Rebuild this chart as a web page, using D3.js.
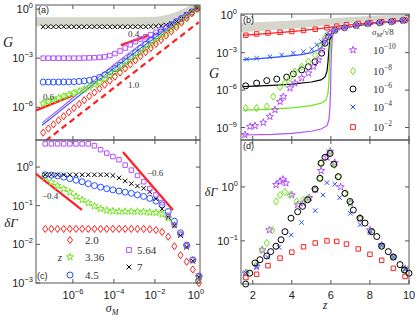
<!DOCTYPE html>
<html>
<head>
<meta charset="utf-8">
<script src="https://cdn.jsdelivr.net/npm/d3@7"></script>
<style>
  body { margin: 0; background: #fff; }
  svg { display: block; }
</style>
</head>
<body>
<script>
// ---- data (exponents of 10 for log axes) ----

// panel (a): G vs sigma_M
var logSigmaA = [-7.45, -7.2, -6.95, -6.7, -6.45, -6.2, -5.95, -5.7, -5.45, -5.2, -4.95, -4.7, -4.45, -4.2, -3.95,
                 -3.7, -3.45, -3.2, -2.95, -2.7, -2.45, -2.2, -1.95, -1.7, -1.45, -1.2, -0.95, -0.7, -0.45, -0.2, 0.05];
var gZ20  = [-7.55, -7.3, -7.05, -6.8, -6.55, -6.3, -6.05, -5.8, -5.57, -5.33, -5.1, -4.86, -4.62, -4.38, -4.13,
             -3.88, -3.63, -3.38, -3.13, -2.88, -2.63, -2.38, -2.13, -1.88, -1.62, -1.37, -1.1, -0.83, -0.55, -0.26, 0.02];
var gZ336 = [-5.76, -5.64, -5.53, -5.43, -5.33, -5.23, -5.13, -5.02, -4.9, -4.77, -4.62, -4.46, -4.26, -4.06, -3.86,
             -3.64, -3.41, -3.17, -2.93, -2.69, -2.45, -2.21, -1.97, -1.73, -1.49, -1.25, -1.0, -0.75, -0.5, -0.24, 0.02];
var gZ45  = [-4.46, -4.46, -4.46, -4.46, -4.45, -4.45, -4.44, -4.42, -4.39, -4.35, -4.28, -4.17, -4.02, -3.84, -3.64,
             -3.43, -3.18, -2.92, -2.66, -2.4, -2.15, -1.9, -1.65, -1.4, -1.18, -0.97, -0.77, -0.57, -0.37, -0.17, 0.02];
var gZ564 = [-3.0, -3.0, -3.0, -3.0, -3.0, -3.0, -3.0, -3.0, -2.99, -2.98, -2.97, -2.95, -2.92, -2.84, -2.72,
             -2.56, -2.38, -2.18, -1.99, -1.83, -1.69, -1.56, -1.42, -1.27, -1.11, -0.94, -0.76, -0.58, -0.39, -0.19, 0.02];
var gZ7   = [-1.08, -1.08, -1.08, -1.08, -1.08, -1.08, -1.08, -1.08, -1.08, -1.08, -1.08, -1.08, -1.08, -1.08, -1.08,
             -1.08, -1.08, -1.08, -1.08, -1.08, -1.08, -1.07, -1.05, -1.02, -0.97, -0.88, -0.75, -0.57, -0.35, -0.13, 0.07];

var lineBlueA_x   = [-7.5, -6.5, -5.5, -4.5, -3.5, -2.5, -1.5, -0.5, 0.05];
var lineBlueA_y   = [-7.1, -6.1, -5.1, -4.1, -3.15, -2.2, -1.3, -0.42, 0.02];
var linePurpleA_x = [-7.5, -7, -6.5, -6, -5.5, -5, -4.5, -4, -3.5, -3, -2.5, -2, -1.5, -1, -0.5, 0.05];
var linePurpleA_y = [-6.95, -6.45, -5.95, -5.42, -4.92, -4.42, -3.9, -3.4, -2.92, -2.45, -2.0, -1.6, -1.2, -0.82, -0.42, 0.02];
var slope06_x = [-7.8, -6.0],  slope06_y = [-6.2, -5.28];
var slope04_x = [-3.66, -2.34], slope04_y = [-2.2, -1.62];
var slope10_x = [-7.32, 0.14],  slope10_y = [-8.04, -0.8];
var bandA_x  = [-7.8, -5, -3, -2, -1.5, -1, -0.5, 0, 0.2];
var bandA_lo = [-1.05, -1.05, -1.05, -1.03, -0.97, -0.8, -0.45, -0.02, 0.15];
var bandA_hi = [-0.5, -0.5, -0.5, -0.47, -0.38, -0.2, 0.08, 0.3, 0.3];

// panel (c): dGamma vs sigma_M
var logSigmaC = [-7.35, -7.05, -6.75, -6.45, -6.15, -5.85, -5.55, -5.25, -4.95, -4.65, -4.35, -4.05, -3.75,
                 -3.45, -3.15, -2.85, -2.55, -2.25, -1.95, -1.65, -1.35, -1.05, -0.75, -0.45, -0.15, 0.15];
var dZ20  = [-1.6, -1.6, -1.6, -1.6, -1.6, -1.6, -1.6, -1.6, -1.6, -1.6, -1.6, -1.6, -1.6,
             -1.6, -1.6, -1.6, -1.6, -1.61, -1.63, -1.68, -1.8, -2.05, -2.28, -2.45, -2.65, -3.0];
var dZ336 = [-0.25, -0.39, -0.48, -0.56, -0.65, -0.76, -0.85, -0.93, -1.01, -1.08, -1.12, -1.14, -1.15,
             -1.15, -1.15, -1.15, -1.16, -1.17, -1.18, -1.22, -1.32, -1.5, -1.75, -2.05, -2.42, -2.85];
var dZ45  = [-0.2, -0.21, -0.23, -0.26, -0.3, -0.34, -0.38, -0.43, -0.48, -0.52, -0.56, -0.59, -0.62,
             -0.65, -0.68, -0.72, -0.76, -0.81, -0.88, -0.98, -1.15, -1.4, -1.7, -2.02, -2.4, -2.82];
var dZ564 = [0.6, 0.6, 0.6, 0.6, 0.6, 0.6, 0.6, 0.6, 0.55, 0.45, 0.36, 0.27, 0.19,
             0.05, -0.08, -0.22, -0.38, -0.56, -0.72, -0.92, -1.25, -1.5, -1.74, -2.04, -2.4, -2.82];
var dZ7   = [-0.2, -0.2, -0.2, -0.2, -0.2, -0.2, -0.2, -0.2, -0.2, -0.2, -0.2, -0.22, -0.28,
             -0.36, -0.43, -0.49, -0.55, -0.64, -0.82, -1.08, -1.3, -1.52, -1.77, -2.07, -2.43, -2.85];
var slopeM04_x = [-7.85, -5.56], slopeM04_y = [-0.155, -1.11];
var slopeM06_x = [-3.56, -1.12], slopeM06_y = [0.39, -1.11];

// panel (b): G vs z, for sigma_M/sqrt(8) = 1e-10 ... 1e-2
var zStarB = [1.6, 1.86, 2.12, 2.54, 2.88, 3.14, 3.4, 3.57, 3.91, 4.16, 4.51, 4.85, 5.1, 5.36, 5.53, 5.74, 5.96, 6.2, 6.7, 7.3, 7.9, 8.5, 9.1, 9.7];
var gStarB = [-9.58, -8.92, -8.86, -8.6, -8.12, -7.58, -6.92, -6.52, -5.84, -5.44, -5.04, -4.64, -4.12, -3.58, -2.78, -1.98, -1.44, -1.2, -1.0, -0.82, -0.68, -0.6, -0.52, -0.42];
var zDiamB = [1.64, 2.2, 2.72, 3.05, 3.4, 3.65, 3.91, 4.16, 4.51, 4.85, 5.19, 5.45, 5.7, 5.96, 6.2, 6.7, 7.3, 7.9, 8.5, 9.1, 9.7];
var gDiamB = [-7.44, -7.44, -7.32, -6.52, -5.76, -5.44, -5.04, -4.52, -4.12, -3.72, -3.18, -2.52, -1.84, -1.44, -1.2, -1.0, -0.82, -0.68, -0.6, -0.52, -0.42];
var zCircB = [1.64, 2.2, 2.72, 3.23, 3.74, 4.08, 4.51, 4.85, 5.19, 5.53, 5.7, 5.87, 6.2, 6.7, 7.3, 7.9, 8.5, 9.1, 9.7];
var gCircB = [-5.66, -5.44, -5.24, -5.12, -4.96, -4.7, -4.38, -4.12, -3.72, -3.04, -2.24, -1.72, -1.2, -1.0, -0.82, -0.68, -0.6, -0.52, -0.42];
var zCrossB = [1.69, 2.2, 2.88, 3.48, 4.08, 4.59, 5.02, 5.28, 5.53, 5.79, 6.2, 6.7, 7.3, 7.9, 8.5, 9.1, 9.7];
var gCrossB = [-3.52, -3.44, -3.32, -3.18, -3.04, -2.92, -2.72, -2.38, -2.12, -1.58, -1.2, -1.0, -0.82, -0.68, -0.6, -0.52, -0.42];
var zSqB = [1.65, 2.2, 2.78, 3.4, 4.0, 4.6, 5.2, 5.8, 6.3, 6.8, 7.4, 8.0, 8.6, 9.2, 9.8];
var gSqB = [-1.6, -1.5, -1.42, -1.36, -1.3, -1.22, -1.12, -1.0, -0.88, -0.76, -0.66, -0.58, -0.52, -0.46, -0.4];

var lineRedB_z    = [1.5, 2.5, 3.5, 4.5, 5.5, 6.5, 7.5, 8.5, 10];
var lineRedB_g    = [-1.62, -1.5, -1.38, -1.24, -1.06, -0.85, -0.68, -0.55, -0.4];
var lineBlueB_z   = [1.5, 2.5, 3.5, 4.5, 5.0, 5.4, 5.7, 5.9, 6.1, 6.5, 7.5, 8.5, 10];
var lineBlueB_g   = [-3.55, -3.45, -3.32, -3.15, -3.0, -2.75, -2.3, -1.7, -1.3, -1.05, -0.8, -0.6, -0.4];
var lineBlackB_z  = [1.5, 3, 4, 5, 5.5, 5.7, 5.8, 5.85, 5.9, 5.95, 6.05, 6.5, 7.5, 8.5, 10];
var lineBlackB_g  = [-5.72, -5.62, -5.52, -5.35, -5.18, -4.95, -4.5, -3.8, -2.8, -2.0, -1.4, -1.05, -0.8, -0.6, -0.4];
var lineGreenB_z  = [1.5, 3, 4, 5, 5.5, 5.75, 5.85, 5.9, 5.93, 5.97, 6.03, 6.2, 6.5, 7.5, 8.5, 10];
var lineGreenB_g  = [-7.6, -7.52, -7.42, -7.25, -7.05, -6.8, -6.3, -5.3, -3.8, -2.4, -1.6, -1.25, -1.05, -0.8, -0.6, -0.4];
var linePurpleB_z = [1.5, 3, 4, 5, 5.5, 5.8, 5.9, 5.95, 5.98, 6.0, 6.03, 6.08, 6.2, 6.5, 7.5, 8.5, 10];
var linePurpleB_g = [-9.6, -9.55, -9.47, -9.3, -9.12, -8.85, -8.4, -7.5, -6.2, -4.6, -2.9, -1.7, -1.25, -1.05, -0.8, -0.6, -0.4];
var bandB_z  = [1.4, 3, 5, 7, 10];
var bandB_lo = [-1.34, -1.2, -0.95, -0.62, -0.3];
var bandB_hi = [-0.62, -0.5, -0.35, -0.15, 0.05];

// panel (d): dGamma vs z
var zSqD = [1.65, 2.2, 2.78, 3.4, 4.0, 4.6, 5.2, 5.8, 6.3, 6.8, 7.4, 8.0, 8.6, 9.2, 9.8];
var dSqD = [-1.68, -1.62, -1.46, -1.32, -1.21, -1.11, -1.04, -1.0, -1.01, -1.06, -1.15, -1.25, -1.36, -1.51, -1.66];
var zCrossD = [1.64, 2.2, 2.76, 3.35, 3.97, 4.5, 5.2, 5.6, 5.8, 6.2, 6.45, 7.0, 7.5, 8.0, 8.6, 9.2, 9.8];
var dCrossD = [-1.59, -1.48, -1.3, -1.12, -0.89, -0.66, -0.44, -0.15, 0.08, 0.05, -0.2, -0.49, -0.7, -0.85, -1.08, -1.3, -1.52];
var zCircD = [1.64, 1.85, 2.12, 2.37, 2.72, 2.92, 3.19, 3.45, 3.65, 3.96, 4.3, 4.55, 4.81, 5.19, 5.44, 5.5, 5.7, 5.96,
              6.15, 6.38, 6.72, 6.98, 7.15, 7.49, 7.75, 8.09, 8.35, 8.6, 8.94, 9.2, 9.54, 9.76, 10.0];
var dCircD = [-1.8, -1.6, -1.41, -1.35, -1.28, -1.2, -1.1, -0.98, -0.83, -0.58, -0.46, -0.36, -0.24, -0.04, 0.16, 0.44, 0.55, 0.62,
              0.42, 0.19, -0.12, -0.27, -0.43, -0.58, -0.67, -0.83, -0.92, -1.1, -1.2, -1.3, -1.44, -1.54, -1.6];
var zDiamD = [1.7, 2.2, 2.45, 2.72, 3.0, 3.2, 3.4, 3.65, 3.9, 4.25, 4.6, 4.85, 5.2, 5.44, 5.5, 5.96, 6.2, 6.38, 6.7, 7.0, 7.5, 8.1, 8.6, 9.2, 9.8];
var dDiamD = [-1.59, -1.44, -1.17, -1.04, -0.8, -0.27, -0.15, -0.09, -0.15, -0.27, -0.24, -0.21, -0.05, 0.16, 0.44, 0.64, 0.41, 0.19, -0.12, -0.3, -0.58, -0.83, -1.1, -1.3, -1.55];
var zStarD = [1.64, 2.2, 2.5, 2.85, 3.2, 3.4, 3.55, 3.7, 4.0, 4.3, 4.6, 4.9, 5.2, 5.5, 5.8, 5.96, 6.2, 6.5, 7.0, 7.5, 8.0, 8.6, 9.2, 9.8];
var dStarD = [-1.6, -1.48, -1.17, -0.8, 0.04, 0.1, 0.14, 0.07, -0.15, -0.33, -0.3, -0.2, -0.05, 0.3, 0.55, 0.66, 0.45, 0.0, -0.3, -0.58, -0.8, -1.08, -1.3, -1.52];

// tick values (exponents / z)
var ticksXSigma = [-6, -4, -2, 0];
var ticksYA = [0, -3, -6];
var ticksYC = [0, -1, -2, -3];
var ticksYB = [0, -3, -6, -9];
var ticksYD = [0, -1];
var ticksZ = [2, 4, 6, 8, 10];

var legendZ = ["2.0", "3.36", "4.5", "5.64", "7"];
var legendSigma = [-10, -8, -6, -4, -2];

// ---- setup ----
var width = 415, height = 318;
var sans = "'Liberation Sans', Arial, sans-serif",
    serif = "'Liberation Serif', 'Times New Roman', serif";
var RED = "#ff1f1f", GREEN = "#6ee61a", BLUE = "#2850ff", PURPLE = "#b450ff", BLACK = "#000",
    AXIS = "#555", BAND = "#d4d6cc";

var p10 = function(v){ return Math.pow(10, v); };

var svg = d3.select("body").append("svg")
    .attr("width", width)
    .attr("height", height);

//scales
var xSig = d3.scaleLog().domain([p10(-7.8), p10(0.2)]).range([36, 200]);
var yA = d3.scaleLog().domain([p10(-8), p10(0.25)]).range([140, 5]);
var yC = d3.scaleLog().domain([p10(-3), p10(0.7)]).range([283, 140]);
var xZ = d3.scaleLinear().domain([1.4, 10]).range([241, 409]);
var yB = d3.scaleLog().domain([p10(-10), p10(0.1)]).range([140, 14]);
var yD = d3.scaleLog().domain([p10(-1.8), p10(0.87)]).range([284, 140]);

var defs = svg.append("defs");
function clip(id, x0, x1, y0, y1){
    defs.append("clipPath").attr("id", id).append("rect")
        .attr("x", x0).attr("y", y0).attr("width", x1 - x0).attr("height", y1 - y0);
    return svg.append("g").attr("clip-path", "url(#" + id + ")");
}

function markerPath(type, r){
    var p = d3.path();
    if (type === "diamond"){
        p.moveTo(0, -r * 1.2); p.lineTo(r * 0.85, 0); p.lineTo(0, r * 1.2); p.lineTo(-r * 0.85, 0); p.closePath();
    } else if (type === "square"){
        p.rect(-r * 0.8, -r * 0.8, r * 1.6, r * 1.6);
    } else if (type === "circle"){
        p.moveTo(r, 0); p.arc(0, 0, r, 0, 2 * Math.PI);
    } else if (type === "cross"){
        p.moveTo(-r * 0.8, -r * 0.8); p.lineTo(r * 0.8, r * 0.8);
        p.moveTo(r * 0.8, -r * 0.8); p.lineTo(-r * 0.8, r * 0.8);
    } else if (type === "star"){
        for (var i = 0; i < 10; i++){
            var a = -Math.PI / 2 + i * Math.PI / 5;
            var rr = i % 2 ? r * 0.5 : r * 1.25;
            if (i === 0) p.moveTo(rr * Math.cos(a), rr * Math.sin(a));
            else p.lineTo(rr * Math.cos(a), rr * Math.sin(a));
        }
        p.closePath();
    }
    return p.toString();
}

function markers(g, xs, ys, fx, fy, type, color, r){
    g.append("g").selectAll("path")
        .data(d3.zip(xs, ys))
        .enter()
        .append("path")
        .attr("d", markerPath(type, r))
        .attr("transform", function(d){ return "translate(" + fx(d[0]) + "," + fy(d[1]) + ")"; })
        .attr("fill", "none")
        .attr("stroke", color)
        .attr("stroke-width", 1);
}

function curve(g, xs, ys, fx, fy, color, w, dash){
    var line = d3.line().x(function(d){ return fx(d[0]); }).y(function(d){ return fy(d[1]); });
    g.append("path")
        .datum(d3.zip(xs, ys))
        .attr("d", line)
        .attr("fill", "none")
        .attr("stroke", color)
        .attr("stroke-width", w)
        .attr("stroke-dasharray", dash || null);
}

function band(g, xs, lo, hi, fx, fy){
    var area = d3.area()
        .x(function(d){ return fx(d[0]); })
        .y0(function(d){ return fy(d[1]); })
        .y1(function(d){ return fy(d[2]); })
        .curve(d3.curveMonotoneX);
    g.append("path").datum(d3.zip(xs, lo, hi)).attr("d", area).attr("fill", BAND);
}

//log-axis helpers
var fxS = function(v){ return xSig(p10(v)); };
var fyA = function(v){ return yA(p10(v)); };
var fyC = function(v){ return yC(p10(v)); };
var fyB = function(v){ return yB(p10(v)); };
var fyD = function(v){ return yD(p10(v)); };

//frame with inward ticks on all four sides
function frame(x0, x1, y0, y1, xT, yT, fx, fy){
    var g = svg.append("g");
    g.append("rect").attr("x", x0).attr("y", y0).attr("width", x1 - x0).attr("height", y1 - y0)
        .attr("fill", "none").attr("stroke", AXIS).attr("stroke-width", 1);
    xT.forEach(function(t){
        var x = fx(t);
        g.append("line").attr("x1", x).attr("x2", x).attr("y1", y1).attr("y2", y1 - 4).attr("stroke", AXIS);
        g.append("line").attr("x1", x).attr("x2", x).attr("y1", y0).attr("y2", y0 + 4).attr("stroke", AXIS);
    });
    yT.forEach(function(t){
        var y = fy(t);
        g.append("line").attr("x1", x0).attr("x2", x0 + 4).attr("y1", y).attr("y2", y).attr("stroke", AXIS);
        g.append("line").attr("x1", x1).attr("x2", x1 - 4).attr("y1", y).attr("y2", y).attr("stroke", AXIS);
    });
}

function powText(x, y, e, anchor, size, font){
    var t = svg.append("text").attr("x", x).attr("y", y)
        .attr("text-anchor", anchor).attr("font-family", font || sans)
        .attr("font-size", size || 11).attr("fill", "#222");
    t.append("tspan").text("10");
    t.append("tspan").attr("dy", -5).attr("font-size", (size || 11) * 0.68)
        .text(e === 0 ? "0" : "\u2212" + Math.abs(e));
    return t;
}

function label(x, y, txt, size, font, style, anchor, color){
    return svg.append("text").attr("x", x).attr("y", y)
        .attr("font-family", font).attr("font-size", size)
        .attr("font-style", style || "normal")
        .attr("text-anchor", anchor || "start")
        .attr("fill", color || "#222")
        .text(txt);
}

// ---- panel (a) ----
var gA = clip("clipA", 36, 200, 5, 140);
band(gA, bandA_x, bandA_lo, bandA_hi, fxS, fyA);
curve(gA, slope10_x, slope10_y, fxS, fyA, RED, 2.2, "6,4");
curve(gA, lineBlueA_x, lineBlueA_y, fxS, fyA, BLUE, 1.1);
curve(gA, linePurpleA_x, linePurpleA_y, fxS, fyA, PURPLE, 1.1);
var mA = svg.append("g");
markers(mA, logSigmaA, gZ7, fxS, fyA, "cross", BLACK, 2.8);
markers(mA, logSigmaA, gZ564, fxS, fyA, "square", PURPLE, 2.8);
markers(mA, logSigmaA, gZ45, fxS, fyA, "circle", BLUE, 3);
markers(mA, logSigmaA, gZ336, fxS, fyA, "star", GREEN, 3);
markers(mA, logSigmaA, gZ20, fxS, fyA, "diamond", RED, 3);
curve(gA, slope06_x, slope06_y, fxS, fyA, RED, 2.2);
curve(gA, slope04_x, slope04_y, fxS, fyA, RED, 2.2);
frame(36, 200, 5, 140, ticksXSigma, ticksYA, fxS, fyA);
ticksYA.forEach(function(e){ powText(33, fyA(e) + 4, e, "end"); });
label(38, 13, "(a)", 9, sans);
label(128, 37, "0.4", 9, serif, null, null, "#333");
label(43, 100, "0.6", 9, serif, null, null, "#333");
label(128, 88, "1.0", 9, serif, null, null, "#333");
label(8, 47, "G", 14, serif, "italic", "middle");

// ---- panel (c) ----
var gC = clip("clipC", 36, 200, 140, 283);
var mC = svg.append("g");
markers(mC, logSigmaC, dZ20, fxS, fyC, "diamond", RED, 3);
markers(mC, logSigmaC, dZ336, fxS, fyC, "star", GREEN, 3);
markers(mC, logSigmaC, dZ45, fxS, fyC, "circle", BLUE, 3);
markers(mC, logSigmaC, dZ7, fxS, fyC, "cross", BLACK, 2.8);
markers(mC, logSigmaC, dZ564, fxS, fyC, "square", PURPLE, 2.8);
curve(gC, slopeM04_x, slopeM04_y, fxS, fyC, RED, 2.2);
curve(gC, slopeM06_x, slopeM06_y, fxS, fyC, RED, 2.2);
frame(36, 200, 140, 283, ticksXSigma, ticksYC, fxS, fyC);
ticksYC.forEach(function(e){ powText(33, fyC(e) + 4, e, "end"); });
ticksXSigma.forEach(function(e){ powText(fxS(e), 299, e, "middle"); });
label(147, 176, "\u22120.6", 9, serif, null, null, "#333");
label(42, 199, "\u22120.4", 9, serif, null, null, "#333");
label(11, 227, "\u03b4\u0393", 13, serif, "italic", "middle");
var sm = label(112, 312, "\u03c3", 12, serif, "italic", "middle");
sm.append("tspan").attr("dy", 3).attr("font-size", 8).text("M");
label(37, 279, "(c)", 9, sans);

//legend (c)
var legC = [
    {x: 70, y: 240, type: "diamond", c: RED},
    {x: 70, y: 257, type: "star", c: GREEN},
    {x: 70, y: 275, type: "circle", c: BLUE},
    {x: 129, y: 250, type: "square", c: PURPLE},
    {x: 129, y: 267, type: "cross", c: BLACK}
];
legC.forEach(function(d, i){
    svg.append("path").attr("d", markerPath(d.type, 3))
        .attr("transform", "translate(" + d.x + "," + d.y + ")")
        .attr("fill", "none").attr("stroke", d.c).attr("stroke-width", 1);
    label(d.x + (i < 3 ? 15 : 8), d.y + 4, legendZ[i], 11, serif, null, null, "#333");
});
label(60, 261, "z", 11, serif, "italic", "middle", "#333");

// ---- panel (b) ----
var fz = function(v){ return xZ(v); };
var gB = clip("clipB", 241, 409, 14, 140);
band(gB, bandB_z, bandB_lo, bandB_hi, fz, fyB);
curve(gB, lineRedB_z, lineRedB_g, fz, fyB, RED, 1.2);
curve(gB, lineBlueB_z, lineBlueB_g, fz, fyB, BLUE, 1.2);
curve(gB, lineBlackB_z, lineBlackB_g, fz, fyB, BLACK, 1.2);
curve(gB, lineGreenB_z, lineGreenB_g, fz, fyB, GREEN, 1.2);
curve(gB, linePurpleB_z, linePurpleB_g, fz, fyB, PURPLE, 1.2);
var mB = svg.append("g");
markers(mB, zSqB, gSqB, fz, fyB, "square", RED, 2.8);
markers(mB, zCrossB, gCrossB, fz, fyB, "cross", BLUE, 2.8);
markers(mB, zCircB, gCircB, fz, fyB, "circle", BLACK, 3);
markers(mB, zDiamB, gDiamB, fz, fyB, "diamond", GREEN, 3);
markers(mB, zStarB, gStarB, fz, fyB, "star", PURPLE, 3);
frame(241, 409, 14, 140, ticksZ, ticksYB, fz, fyB);
ticksYB.forEach(function(e){ powText(237, fyB(e) + 4, e, "end"); });
label(243, 23, "(b)", 9, sans);
label(214, 78, "G", 14, serif, "italic", "middle");

//legend (b)
var hdr = label(372, 35, "\u03c3", 9, serif, "italic", null, "#333");
hdr.append("tspan").attr("dy", 2).attr("font-size", 6.5).text("M");
hdr.append("tspan").attr("dy", -2).attr("font-style", "normal").text("/\u221a8");
var legB = [
    {type: "star", c: PURPLE}, {type: "diamond", c: GREEN}, {type: "circle", c: BLACK},
    {type: "cross", c: BLUE}, {type: "square", c: RED}
];
var legBy = [50, 71, 89, 107, 127];
legB.forEach(function(d, i){
    svg.append("path").attr("d", markerPath(d.type, 3))
        .attr("transform", "translate(353," + legBy[i] + ")")
        .attr("fill", "none").attr("stroke", d.c).attr("stroke-width", 1);
    powText(373, legBy[i] + 4, legendSigma[i], "start", 11, serif).attr("fill", "#333");
});

// ---- panel (d) ----
var mD = svg.append("g");
markers(mD, zStarD, dStarD, fz, fyD, "star", PURPLE, 3);
markers(mD, zDiamD, dDiamD, fz, fyD, "diamond", GREEN, 3);
markers(mD, zCrossD, dCrossD, fz, fyD, "cross", BLUE, 2.8);
markers(mD, zSqD, dSqD, fz, fyD, "square", RED, 2.8);
markers(mD, zCircD, dCircD, fz, fyD, "circle", BLACK, 3);
frame(241, 409, 140, 284, ticksZ, ticksYD, fz, fyD);
ticksYD.forEach(function(e){ powText(238, fyD(e) + 4, e, "end"); });
ticksZ.forEach(function(v){
    svg.append("text").attr("x", fz(v)).attr("y", 299).attr("text-anchor", "middle")
        .attr("font-family", sans).attr("font-size", 11).attr("fill", "#222").text(v);
});
label(243, 149, "(d)", 9, sans);
label(211, 196, "\u03b4\u0393", 12, serif, "italic", "middle");
label(325, 309, "z", 12, serif, "italic", "middle");
</script>
</body>
</html>
